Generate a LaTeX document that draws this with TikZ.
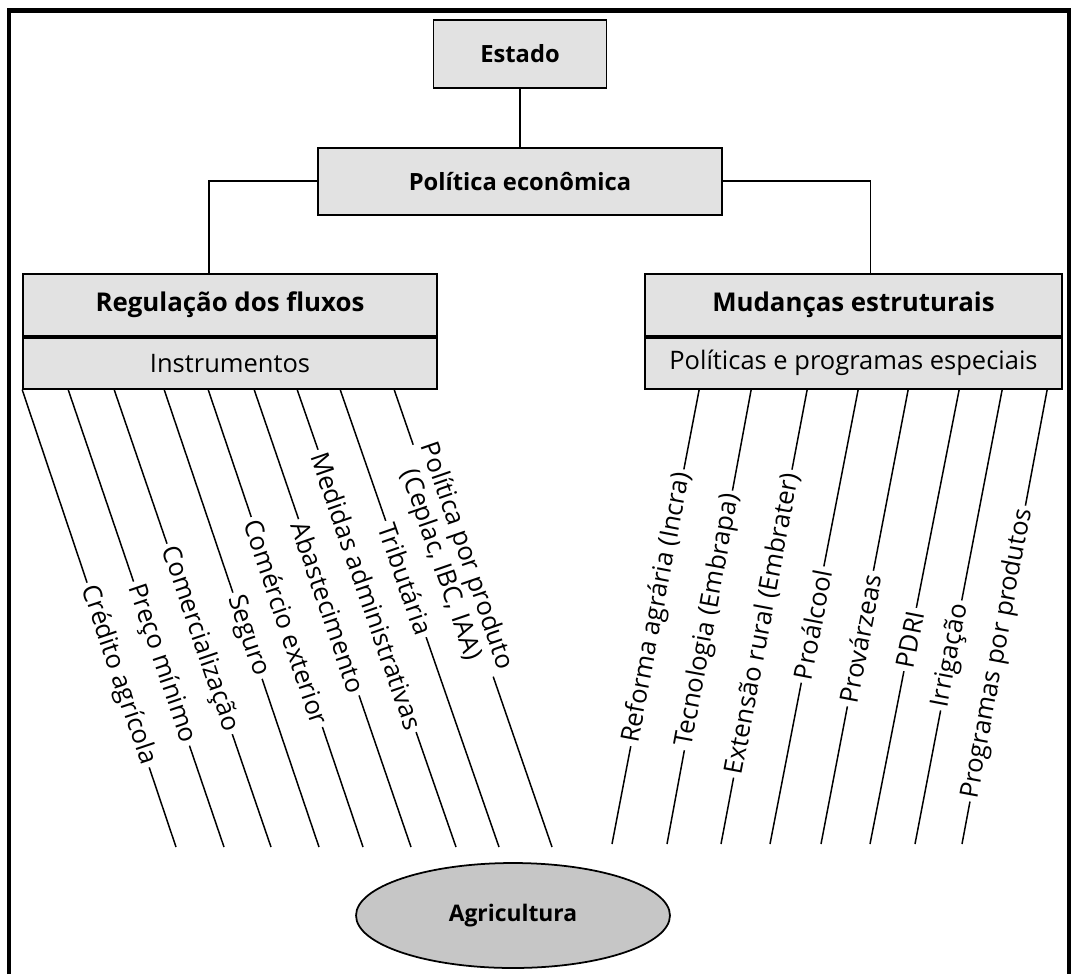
\documentclass[tikz,border=0pt]{standalone}
\usepackage{fontspec}
\setmainfont{Open Sans}
\usetikzlibrary{positioning,calc,shapes.geometric}
\definecolor{boxGray}{HTML}{E2E2E2}
\definecolor{ovalGray}{HTML}{C6C6C6}
\tikzset{
  pageframe/.style={line width=2.3pt, draw=black},
  topbox/.style={rectangle, draw=black, line width=1pt, fill=boxGray,
                 minimum width=3.46cm, minimum height=1.36cm, inner sep=0pt,
                 font=\fontsize{13.5}{15}\selectfont\bfseries},
  headbox/.style={rectangle, draw=black, line width=1pt, fill=boxGray,
                  minimum height=1.24cm, inner sep=0pt,
                  font=\fontsize{14.7}{16}\selectfont\bfseries},
  subbox/.style={rectangle, draw=black, line width=1pt, fill=boxGray,
                 minimum height=1.02cm, inner sep=0pt,
                 font=\fontsize{14.5}{16}\selectfont},
  oval/.style={ellipse, draw=black, line width=1pt, fill=ovalGray,
               minimum width=6.28cm, minimum height=2.1cm, inner sep=0pt,
               font=\fontsize{13}{15}\selectfont\bfseries},
  link/.style={draw=black, line width=0.85pt},
  instr/.style={sloped, fill=white, inner sep=2pt, font=\fontsize{14.6}{15.6}\selectfont}
}
\begin{document}
\begin{tikzpicture}[x=0.02cm, y=-0.02cm, node distance=1.16cm]
\useasboundingbox (0,0) rectangle (1071,974);
\draw[pageframe] (9,974) -- (9,10.5) -- (1069,10.5) -- (1069,974);

% top of the hierarchy
\node[topbox] (estado) at (520,54) {Estado};
\node[topbox, minimum width=8.08cm, minimum height=1.34cm, below=of estado] (polecon) {Política econômica};

% the two branches
\node[headbox, minimum width=8.28cm] (regtop) at (230,305) {Regulação dos fluxos};
\node[subbox, minimum width=8.28cm, below=0pt of regtop] (regbot) {Instrumentos};
\node[headbox, minimum width=8.34cm] (mudtop) at (853.5,305) {Mudanças estruturais};
\node[subbox, minimum width=8.34cm, below=0pt of mudtop] (mudbot) {Políticas e programas especiais};

\node[oval] (agri) at (513,915.5) {Agricultura};

\draw[link] (estado) -- (polecon);
\draw[link] (polecon.west) -| ($(regtop.north west)!0.45!(regtop.north east)$);
\draw[link] (polecon.east) -| ($(mudtop.north west)!0.54!(mudtop.north east)$);

% free ends of the instrument lines
\coordinate (l1) at (176,847);
\coordinate (l2) at (224,847);
\coordinate (l3) at (271,847);
\coordinate (l4) at (319,847);
\coordinate (l5) at (363,847);
\coordinate (l6) at (411,847);
\coordinate (l7) at (456,847);
\coordinate (l8) at (499,847);
\coordinate (l9) at (552,847);

\draw[link] (regbot.south west) -- node[instr, pos=.624] {Crédito agrícola} (l1);
\draw[link] ($(regbot.south west)+(46,0)$) -- node[instr, pos=.599] {Preço mínimo} (l2);
\draw[link] ($(regbot.south west)+(92,0)$) -- node[instr, pos=.545] {Comercialização} (l3);
\draw[link] ($(regbot.south west)+(142,0)$) -- node[instr, pos=.538] {Seguro} (l4);
\draw[link] ($(regbot.south west)+(186,0)$) -- node[instr, pos=.508] {Comércio exterior} (l5);
\draw[link] ($(regbot.south west)+(232,0)$) -- node[instr, pos=.476] {Abastecimento} (l6);
\draw[link] ($(regbot.south west)+(275,0)$) -- node[instr, pos=.44] {Medidas administrativas} (l7);
\draw[link] ($(regbot.south west)+(318,0)$) -- node[instr, pos=.414] {Tributária} (l8);
\draw[link] ($(regbot.south west)+(372,0)$) -- node[instr, align=center, pos=.374] (polprod)
  {Política por produto\\(Ceplac, IBC, IAA)} (l9);

% free ends of the programme lines
\coordinate (r1) at (612,844);
\coordinate (r2) at (667,844);
\coordinate (r3) at (721,844);
\coordinate (r4) at (770,844);
\coordinate (r5) at (821,844);
\coordinate (r6) at (870,844);
\coordinate (r7) at (915,844);
\coordinate (r8) at (962,844);

\draw[link] ($(mudbot.south west)+(55,0)$) -- node[instr, pos=.48] {Reforma agrária (Incra)} (r1);
\draw[link] ($(mudbot.south west)+(107,0)$) -- node[instr, pos=.508] {Tecnologia (Embrapa)} (r2);
\draw[link] ($(mudbot.south west)+(163,0)$) -- node[instr, pos=.515] {Extensão rural (Embrater)} (r3);
\draw[link] ($(mudbot.south west)+(214,0)$) -- node[instr, pos=.517] {Proálcool} (r4);
\draw[link] ($(mudbot.south west)+(264,0)$) -- node[instr, pos=.548] {Provárzeas} (r5);
\draw[link] ($(mudbot.south west)+(315,0)$) -- node[instr, pos=.55] {PDRI} (r6);
\draw[link] ($(mudbot.south west)+(358,0)$) -- node[instr, pos=.585] {Irrigação} (r7);
\draw[link] ($(mudbot.south west)+(403,0)$) -- node[instr, pos=.581] {Programas por produtos} (r8);
\end{tikzpicture}
\end{document}
